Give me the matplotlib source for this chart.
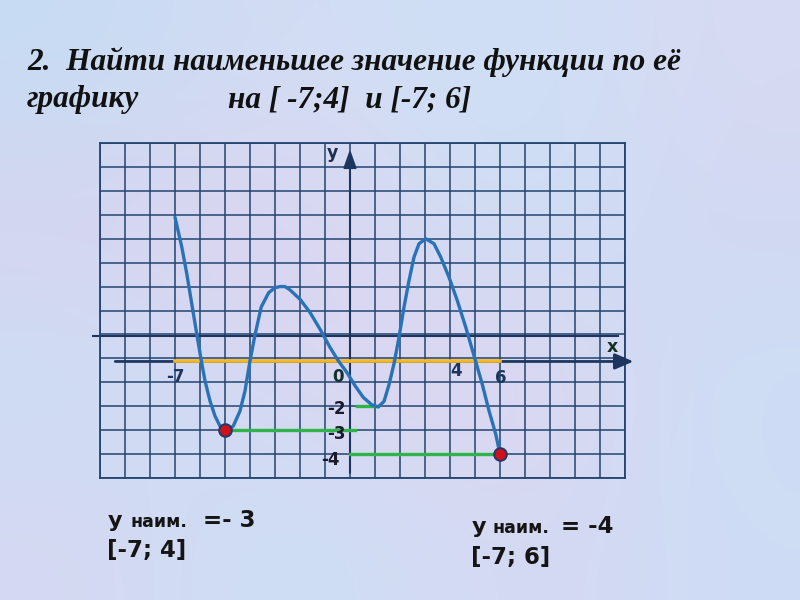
import numpy as np
import matplotlib
matplotlib.use("Agg")
import matplotlib.pyplot as plt

# Curve
curve_x = [-7.0, -6.73, -6.53, -6.33, -6.13, -5.96, -5.8, -5.6, -5.4, -5.2, -5.0, -4.82,
           -4.67, -4.4, -4.2, -4.0, -3.8, -3.55, -3.25, -3.0, -2.8, -2.6, -2.4, -2.0,
           -1.6, -1.2, -0.8, -0.47, -0.13, 0.2, 0.53, 0.87, 1.13, 1.36, 1.56, 1.76,
           1.96, 2.16, 2.36, 2.56, 2.76, 3.03, 3.36, 3.63, 3.96, 4.29, 4.63, 5.0, 5.29,
           5.56, 5.83, 6.0]
curve_y = [5.9, 4.66, 3.54, 2.28, 1.02, -0.03, -0.94, -1.78, -2.41, -2.83, -3.0, -2.95,
           -2.83, -2.2, -1.36, -0.1, 0.98, 2.15, 2.75, 2.95, 3.0, 3.0, 2.86, 2.47,
           1.92, 1.22, 0.46, -0.1, -0.58, -1.14, -1.63, -1.94, -2.03, -1.8, -1.1, -0.22,
           0.88, 2.14, 3.25, 4.23, 4.79, 5.0, 4.79, 4.23, 3.39, 2.42, 1.3, -0.03, -1.08,
           -2.19, -3.17, -4.0]

# interval [-7; 6] on the x axis
interval = [-7, 6]
# minimum marks: (x start, x end, y)
green_lines = [(-5, 0.2, -3), (0, 6, -4), (0.27, 1.13, -2)]
min_points_x = [-5, 6]
min_points_y = [-3, -4]

x_labels = ["-7", "0", "4", "6"]
x_label_pos = [(-7.0, -0.8), (-0.48, -0.8), (4.24, -0.52), (6.02, -0.83)]
y_labels = ["-2", "-3", "-4"]
y_label_pos = [(-0.55, -2.13), (-0.55, -3.18), (-0.77, -4.23)]

navy = "#1d3660"
grid_c = "#234470"
axis_shift = -0.13  # x axis is drawn a little below the grid line

fig = plt.figure(figsize=(8, 6), dpi=100)

# soft background
bg = fig.add_axes([0, 0, 1, 1])
bg_cols = np.array([
    [[198, 220, 243], [214, 220, 244], [203, 225, 246], [216, 218, 243]],
    [[216, 212, 240], [224, 212, 240], [204, 224, 245], [210, 216, 242]],
    [[203, 222, 245], [218, 214, 242], [226, 212, 240], [204, 222, 245]],
    [[214, 216, 242], [202, 225, 246], [216, 216, 242], [206, 220, 245]],
]) / 255.0
bg.imshow(bg_cols, extent=[0, 1, 0, 1], aspect="auto", interpolation="bicubic")
bg.axis("off")

ax = fig.add_axes([100 / 800, 122 / 600, 525 / 800, 335 / 600])
ax.set_xlim(-10, 11)
ax.set_ylim(-5, 9)
ax.patch.set_alpha(0)
ax.set_xticks(range(-10, 12))
ax.set_yticks(range(-5, 10))
ax.tick_params(length=0, labelbottom=False, labelleft=False)
ax.grid(True, color=grid_c, lw=1.1)
for s in ax.spines.values():
    s.set_color(grid_c)
    s.set_linewidth(1.3)

# extra long line at y = 1
ax.plot([-10.27, 10.7], [0.95, 0.95], color=navy, lw=1.5, clip_on=False)

# axes with arrows
ax.annotate("", xy=(11.45, axis_shift), xytext=(-9.5, axis_shift),
            arrowprops=dict(arrowstyle="-|>,head_width=0.3,head_length=0.7",
                            color=navy, lw=2, mutation_scale=16),
            annotation_clip=False)
ax.annotate("", xy=(0, 8.85), xytext=(0, -4.9),
            arrowprops=dict(arrowstyle="-|>,head_width=0.25,head_length=0.7",
                            color=navy, lw=1.5, mutation_scale=16),
            annotation_clip=False)

ax.plot(interval, [axis_shift, axis_shift], color="#f6b824", lw=2.6, zorder=4)

for x0, x1, yv in green_lines:
    ax.plot([x0, x1], [yv, yv], color="#2fb44a", lw=2.4, zorder=4)

ax.plot(curve_x, curve_y, color="#2a72b8", lw=2.4, zorder=5,
        solid_capstyle="round", solid_joinstyle="round")

ax.plot(min_points_x, min_points_y, "o", ms=9, color="#d0111b", mec="#2b3566", mew=1.5,
        zorder=6, clip_on=False)

for t, (xp, yp) in zip(x_labels, x_label_pos):
    col = "#13302a" if t == "0" else navy
    ax.text(xp, yp, t, ha="center", va="center", fontsize=12, fontweight="bold", color=col, zorder=7)
for t, (xp, yp) in zip(y_labels, y_label_pos):
    ax.text(xp, yp, t, ha="center", va="center", fontsize=12, fontweight="bold", color="#1a1a2a", zorder=7)
ax.text(10.5, 0.46, "x", ha="center", va="center", fontsize=12.5, fontweight="bold", color="#143224")
ax.text(-0.72, 8.6, "y", ha="center", va="center", fontsize=12.5, fontweight="bold", color="#1f2f4f",
        clip_on=False)

# title
tfont = dict(family="Liberation Serif", fontsize=22.5, fontweight="bold", style="italic", color="#111111")
fig.text(27 / 800, 1 - 62 / 600, "2.  Найти наименьшее значение функции по её", va="center", **tfont)
fig.text(27 / 800, 1 - 100 / 600, "графику", va="center", **tfont)
fig.text(228 / 800, 1 - 100 / 600, "на [ -7;4]  и [-7; 6]", va="center", **tfont)


# answer texts: (text, x px, baseline px, font size)
answer_parts = [
    ("y", 108, 527, 16), ("наим.", 131, 527, 12.5), ("=- 3", 203, 527, 16.5),
    ("[-7; 4]", 107, 557, 16.5),
    ("y", 472, 533, 16), ("наим.", 493, 533, 12.5), ("= -4", 561, 533, 16.5),
    ("[-7; 6]", 471, 564, 16.5),
]
for s, xp, yp, size in answer_parts:
    fig.text(xp / 800, 1 - yp / 600, s, fontsize=size, fontweight="bold",
             color="#151515", va="baseline")

fig.savefig("out.png", dpi=100)
